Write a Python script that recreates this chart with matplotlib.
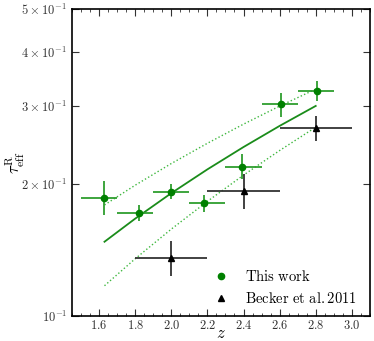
import matplotlib
matplotlib.use("Agg")
import matplotlib.pyplot as plt
from matplotlib.ticker import FixedLocator, FuncFormatter, MultipleLocator, NullFormatter

plt.rcParams['mathtext.fontset'] = 'cm'
plt.rcParams['font.family'] = 'serif'
plt.rcParams['font.serif'] = ['DejaVu Serif']

# This work
z_this = [1.63, 1.82, 2.00, 2.18, 2.39, 2.605, 2.805]
z_lo = [1.50, 1.70, 1.90, 2.10, 2.30, 2.50, 2.70]
z_hi = [1.70, 1.90, 2.10, 2.30, 2.50, 2.70, 2.90]
tau_this = [0.186, 0.1717, 0.192, 0.1806, 0.2188, 0.3035, 0.326]
tau_up = [0.203, 0.179, 0.1998, 0.1886, 0.2339, 0.3226, 0.343]
tau_dn = [0.170, 0.1646, 0.1848, 0.1729, 0.205, 0.2844, 0.3094]

# Becker et al. 2011
z_b = [2.0, 2.4, 2.8]
zb_lo = [1.8, 2.2, 2.6]
zb_hi = [2.2, 2.6, 3.0]
tau_b = [0.1353, 0.1923, 0.268]
taub_up = [0.148, 0.211, 0.286]
taub_dn = [0.1233, 0.1753, 0.2504]

# fit curves
z_fit = [1.63, 1.8, 2.0, 2.2, 2.4, 2.6, 2.8]
tau_fit = [0.1476, 0.1666, 0.1904, 0.2157, 0.2425, 0.2709, 0.3008]
tau_fit_up = [0.179, 0.1985, 0.2224, 0.2473, 0.2734, 0.3005, 0.3285]
tau_fit_dn = [0.1172, 0.1350, 0.1577, 0.1824, 0.2093, 0.2381, 0.2691]

fig = plt.figure(figsize=(3.74, 3.41), dpi=100)
ax = fig.add_axes([0.1925, 0.0733, 0.7965, 0.9003])

ax.plot(z_fit, tau_fit, '-', color='#1a8c1a', lw=1.3)
ax.plot(z_fit, tau_fit_up, ':', color='#40b840', lw=1.0)
ax.plot(z_fit, tau_fit_dn, ':', color='#40b840', lw=1.0)

xerr = [[z - l for z, l in zip(z_this, z_lo)], [h - z for z, h in zip(z_this, z_hi)]]
yerr = [[t - d for t, d in zip(tau_this, tau_dn)], [u - t for t, u in zip(tau_this, tau_up)]]
ax.errorbar(z_this, tau_this, xerr=xerr, yerr=yerr, fmt='none', ecolor='#2e9e2e', elinewidth=1.3)
ax.plot(z_this, tau_this, 'o', color='green', ms=4.5, label=r'$\mathrm{This\ work}$')

xerr_b = [[z - l for z, l in zip(z_b, zb_lo)], [h - z for z, h in zip(z_b, zb_hi)]]
yerr_b = [[t - d for t, d in zip(tau_b, taub_dn)], [u - t for t, u in zip(tau_b, taub_up)]]
ax.errorbar(z_b, tau_b, xerr=xerr_b, yerr=yerr_b, fmt='none', ecolor='#333333', elinewidth=1.3)
ax.plot(z_b, tau_b, '^', color='black', ms=4, label=r'$\mathrm{Becker\ et\ al.2011}$')

ax.set_yscale('log')
ax.set_xlim(1.45, 3.1)
ax.set_ylim(0.1, 0.5)

ax.xaxis.set_major_locator(MultipleLocator(0.2))
ax.xaxis.set_minor_locator(MultipleLocator(0.05))
ax.xaxis.set_major_formatter(FuncFormatter(lambda v, p: r'$%.1f$' % v))

ax.yaxis.set_major_locator(FixedLocator([0.1, 0.2, 0.3, 0.4, 0.5]))
ax.yaxis.set_minor_locator(FixedLocator([]))
ax.yaxis.set_minor_formatter(NullFormatter())
ylabels = {0.1: r'$10^{-1}$', 0.2: r'$2\times10^{-1}$', 0.3: r'$3\times10^{-1}$',
           0.4: r'$4\times10^{-1}$', 0.5: r'$5\times10^{-1}$'}
ax.yaxis.set_major_formatter(FuncFormatter(lambda v, p: ylabels.get(round(v, 2), '')))

ax.tick_params(which='both', direction='in', top=True, right=True, labelsize=9, colors='#333333')
ax.tick_params(which='major', length=5, width=0.8)
ax.tick_params(which='minor', length=2.5, width=0.6)
ax.tick_params(axis='x', pad=2)
for s in ax.spines.values():
    s.set_linewidth(1.2)

ax.set_xlabel(r'$z$', fontsize=12)
ax.xaxis.set_label_coords(0.5, -0.03)
ax.set_ylabel(r'$\tau_{\rm eff}^{\rm R}$', fontsize=12)
ax.yaxis.set_label_coords(-0.15, 0.5)

ax.legend(loc='lower right', frameon=False, fontsize=10.5, handletextpad=0.9,
          handlelength=1.5, numpoints=1, borderaxespad=0.3, labelspacing=0.45,
          bbox_to_anchor=(0.99, 0.0))

fig.savefig('out.png', dpi=100)
